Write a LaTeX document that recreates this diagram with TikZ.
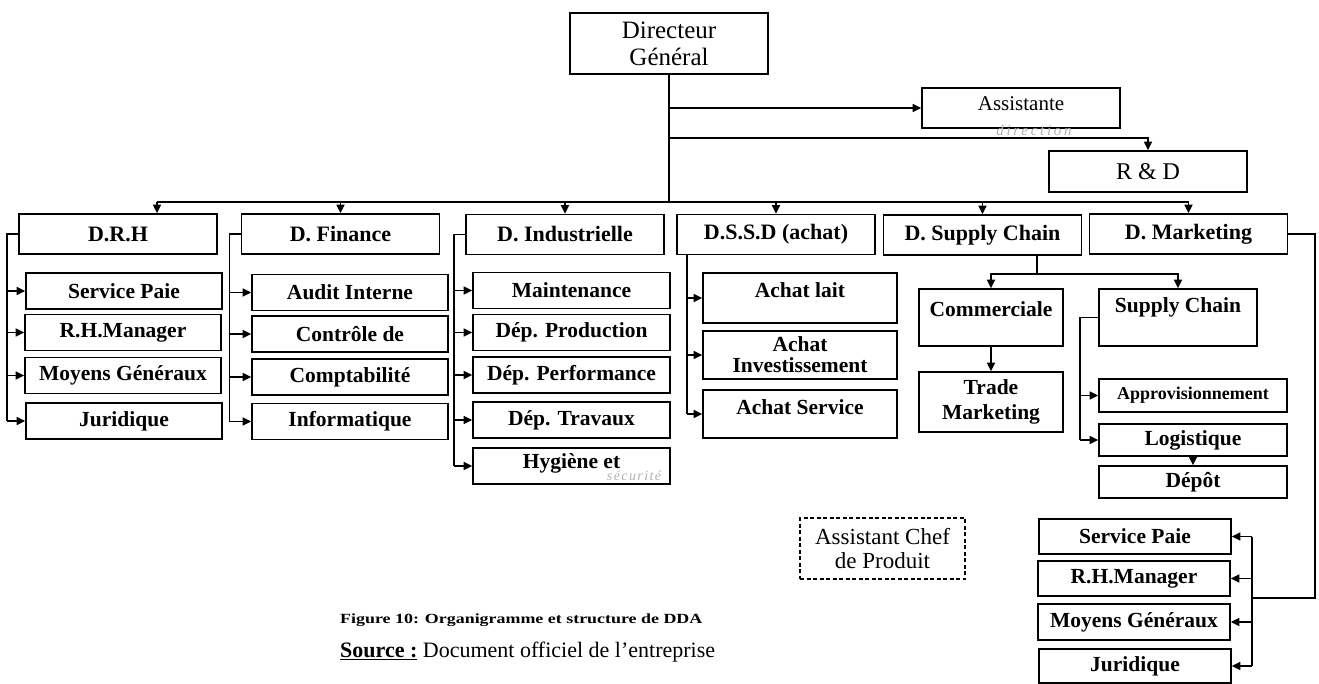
\documentclass[tikz,border=0pt]{standalone}
\usepackage{fontspec}
\usepackage{graphicx}
\setmainfont{Liberation Serif}
\usetikzlibrary{arrows.meta,calc}
\begin{document}
\begin{tikzpicture}[x=1pt,y=-1pt,
  box/.style={draw, line width=1.6pt, inner sep=0pt, align=center,
              font=\fontsize{21.5}{21}\selectfont\bfseries},
  head/.style={box, minimum width=198pt, minimum height=40pt,
               font=\fontsize{22}{24}\selectfont\bfseries},
  sub/.style={box, minimum height=36pt},
  lbl/.style={inner sep=0pt, align=center, font=\fontsize{21.5}{24}\selectfont\bfseries},
  ln/.style={line width=1.5pt},
  arr/.style={ln, -{Triangle[length=8.5pt,width=8pt]}},
  note/.style={inner sep=0pt, text=black!30,
               font=\fontsize{15}{16}\selectfont\itshape\addfontfeature{LetterSpace=18}},
]
\fill[white] (0,0) rectangle (1319,684);
\useasboundingbox (0,0) rectangle (1319,684);

% ---- general management
\node[box, font=\fontsize{25}{27}\selectfont, minimum width=198pt, minimum height=61pt]
  (dg) at (669,43.5) {Directeur\\Général};
\node[box, minimum width=198pt, minimum height=40pt] (asst) at (1021,108) {};
\node[lbl, font=\fontsize{21}{24}\selectfont, yshift=4pt] (asstt) at (asst.center) {Assistante};
\node[note] (hw1) at (1034,130) {direction};
\node[box, font=\fontsize{24}{28}\selectfont, minimum width=198pt, minimum height=41pt]
  (rd) at (1148,171.5) {R \& D};

% ---- directions
\node[head] (drh)  at (118,234)    {D.R.H};
\node[head] (fin)  at (340.5,234)  {D. Finance};
\node[head] (ind)  at (565,234.5)  {D. Industrielle};
\node[head] (dssd) at (776,234.5)  {D.S.S.D (achat)};
\node[head] (dsc)  at (982.5,235)  {D. Supply Chain};
\node[head] (mkt)  at (1188.5,234) {D. Marketing};

\coordinate (busL) at (157,202);
\coordinate (rdlevel) at (0,138);
\draw[ln] (dg.south) -- (dg.south |- busL);
\draw[arr] (dg.south |- asst.west) -- (asst.west);
\draw[arr] (dg.south |- rdlevel) -| (rd.north);
\draw[ln] (busL) -- (mkt.north |- busL);
\draw[arr] (busL) -- (busL |- drh.north);
\foreach \n in {fin,ind,dssd,dsc,mkt}
  \draw[arr] (\n.north |- busL) -- (\n.north);

% ---- D.R.H
\node[sub, minimum width=196pt] (drh1) at (124,291)   {Service Paie};
\node[sub, minimum width=196pt] (drh2) at (123,332.5) {R.H.Manager};
\node[sub, minimum width=196pt] (drh3) at (123,375.5) {Moyens Généraux};
\node[sub, minimum width=196pt] (drh4) at (124,421)   {Juridique};
\draw[ln] (drh.west) -- ++(-11,0) coordinate (drhk) -- (drhk |- drh4.west);
\foreach \i in {1,...,4} \draw[arr] (drhk |- drh\i.west) -- (drh\i.west);

% ---- D. Finance
\node[sub, minimum width=196pt] (fin1) at (350,292.5) {Audit Interne};
\node[sub, minimum width=196pt] (fin2) at (350,334)   {Contrôle de};
\node[sub, minimum width=196pt] (fin3) at (350,377)   {Comptabilité};
\node[sub, minimum width=196pt] (fin4) at (350,421.5) {Informatique};
\draw[ln] (fin.west) -- ++(-11,0) coordinate (fink) -- (fink |- fin4.west);
\foreach \i in {1,...,4} \draw[arr] (fink |- fin\i.west) -- (fin\i.west);

% ---- D. Industrielle
\node[sub, minimum width=197pt] (ind1) at (571.5,290.5) {Maintenance};
\node[sub, minimum width=197pt] (ind2) at (571.5,332.5) {Dép. Production};
\node[sub, minimum width=197pt] (ind3) at (571.5,375)   {Dép. Performance};
\node[sub, minimum width=197pt] (ind4) at (571.5,420)   {Dép. Travaux};
\node[sub, minimum width=197pt] (ind5) at (571.5,466)   {};
\node[lbl, yshift=3pt] (ind5t) at (ind5.center) {Hygiène et};
\node[note, font=\fontsize{14}{15}\selectfont\itshape\addfontfeature{LetterSpace=10}]
  (hw2) at (634,476) {sécurité};
\draw[ln] (ind.west) -- ++(-11,0) coordinate (indk) -- (indk |- ind5.west);
\foreach \i in {1,...,5} \draw[arr] (indk |- ind\i.west) -- (ind\i.west);

% ---- D.S.S.D (achat)
\node[box, minimum width=194pt, minimum height=50pt] (ds1) at (800,298) {};
\node[lbl, yshift=8pt] (ds1t) at (ds1.center) {Achat lait};
\node[box, minimum width=194pt, minimum height=48pt] (ds2) at (800,355) {Achat\\Investissement};
\node[box, minimum width=194pt, minimum height=48pt] (ds3) at (800,414) {};
\node[lbl, yshift=7pt] (ds3t) at (ds3.center) {Achat Service};
\coordinate (dssdk) at (687,0);
\draw[ln] (dssdk |- dssd.south) -- (dssdk |- ds3.west);
\foreach \i in {1,2,3} \draw[arr] (dssdk |- ds\i.west) -- (ds\i.west);

% ---- D. Supply Chain
\node[box, minimum width=144pt, minimum height=57pt] (com) at (991,317.5) {};
\node[lbl, yshift=8.5pt] (comt) at (com.center) {Commerciale};
\node[box, font=\fontsize{21.5}{25}\selectfont\bfseries, minimum width=144pt, minimum height=60pt]
  (trade) at (991,402) {Trade\\Marketing};
\node[box, minimum width=158pt, minimum height=57pt] (sc) at (1178,317.5) {};
\node[lbl, yshift=10pt] (sct) at (sc.center) {Supply Chain};
\node[box, font=\fontsize{18}{20}\selectfont\bfseries, minimum width=188pt, minimum height=33pt]
  (appro) at (1193,395.5) {Approvisionnement};
\node[box, minimum width=188pt, minimum height=32pt] (logi) at (1193,440) {Logistique};
\node[box, minimum width=188pt, minimum height=32pt] (depot) at (1193,482) {Dépôt};
\coordinate (dsck) at (1037,274);
\draw[ln] (dsck |- dsc.south) -- (dsck);
\draw[arr] (dsck) -| (com.north);
\draw[arr] (dsck) -| (sc.north);
\draw[arr] (com.south) -- (trade.north);
\draw[ln] (sc.west) -- ++(-18,0) coordinate (sck) -- (sck |- logi.west);
\draw[arr] (sck |- appro.west) -- (appro.west);
\draw[arr] (sck |- logi.west) -- (logi.west);
\draw[arr] (logi.south) -- (depot.north);

% ---- D. Marketing
\node[box, minimum width=192pt, minimum height=35pt] (mk1) at (1135,536.5) {Service Paie};
\node[box, minimum width=192pt, minimum height=35pt] (mk2) at (1134,578.5) {R.H.Manager};
\node[box, minimum width=192pt, minimum height=36pt] (mk3) at (1134,622)   {Moyens Généraux};
\node[box, minimum width=192pt, minimum height=34pt] (mk4) at (1135,666)   {Juridique};
\coordinate (mkcorner) at (1315,598);
\coordinate (mkbus) at (1252,598);
\draw[ln] (mkt.east) -| (mkcorner) -- (mkbus);
\draw[ln] (mkbus |- mk1.east) -- (mkbus |- mk4.east);
\foreach \i in {1,...,4} \draw[arr] (mkbus |- mk\i.east) -- (mk\i.east);

% ---- free-standing position
\node[box, dash pattern=on 4pt off 2.5pt, font=\fontsize{23}{24}\selectfont,
      minimum width=165pt, minimum height=61pt] (acp) at (882.5,548.5) {Assistant Chef\\de Produit};

% ---- caption
\node[anchor=west, inner sep=0pt] (fig) at (340,620)
  {\scalebox{1.28}[1]{\fontsize{14}{16}\selectfont\bfseries Figure 10: Organigramme et structure de DDA}};
\node[anchor=west, inner sep=0pt, font=\fontsize{22}{26}\selectfont] (src) at (340,652)
  {\underline{\textbf{Source :}} Document officiel de l’entreprise};
\end{tikzpicture}
\end{document}
